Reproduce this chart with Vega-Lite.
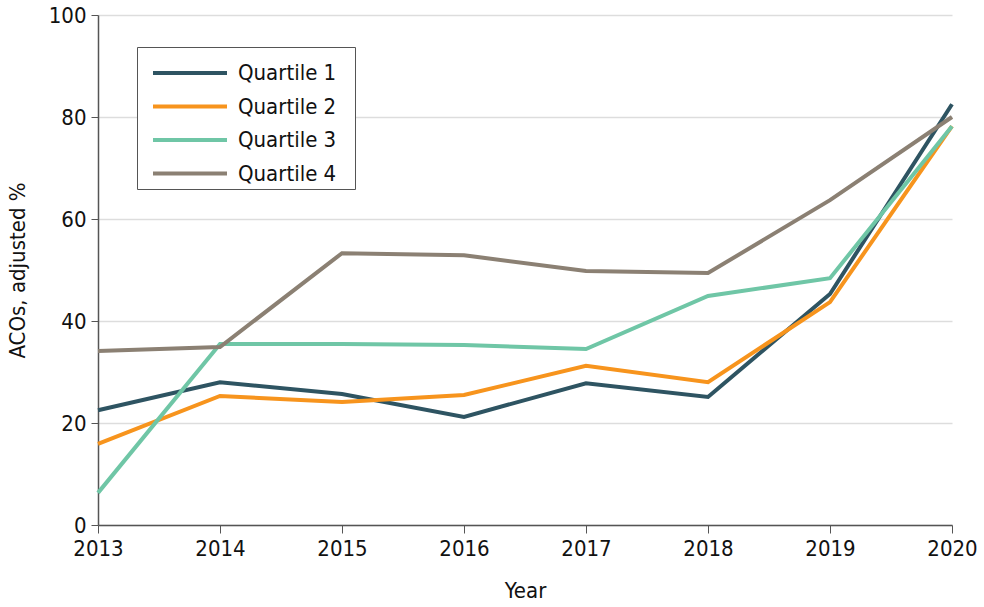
{
  "$schema": "https://vega.github.io/schema/vega-lite/v6.json",
  "width": 854,
  "height": 510,
  "autosize": {"type": "none"},
  "padding": {"left": 98, "top": 15, "right": 32, "bottom": 82},
  "background": "white",
  "config": {
    "view": {"stroke": null},
    "font": "DejaVu Sans Condensed, Liberation Sans, sans-serif"
  },
  "data": {
    "values": [
      {"year": 2013, "q": "Quartile 1", "v": 22.5},
      {"year": 2014, "q": "Quartile 1", "v": 28.0},
      {"year": 2015, "q": "Quartile 1", "v": 25.7},
      {"year": 2016, "q": "Quartile 1", "v": 21.2},
      {"year": 2017, "q": "Quartile 1", "v": 27.8},
      {"year": 2018, "q": "Quartile 1", "v": 25.1},
      {"year": 2019, "q": "Quartile 1", "v": 45.3},
      {"year": 2020, "q": "Quartile 1", "v": 82.5},
      {"year": 2013, "q": "Quartile 2", "v": 15.9},
      {"year": 2014, "q": "Quartile 2", "v": 25.3},
      {"year": 2015, "q": "Quartile 2", "v": 24.1},
      {"year": 2016, "q": "Quartile 2", "v": 25.5},
      {"year": 2017, "q": "Quartile 2", "v": 31.2},
      {"year": 2018, "q": "Quartile 2", "v": 28.0},
      {"year": 2019, "q": "Quartile 2", "v": 43.7},
      {"year": 2020, "q": "Quartile 2", "v": 78.2},
      {"year": 2013, "q": "Quartile 3", "v": 6.3},
      {"year": 2014, "q": "Quartile 3", "v": 35.5},
      {"year": 2015, "q": "Quartile 3", "v": 35.5},
      {"year": 2016, "q": "Quartile 3", "v": 35.3},
      {"year": 2017, "q": "Quartile 3", "v": 34.5},
      {"year": 2018, "q": "Quartile 3", "v": 44.9},
      {"year": 2019, "q": "Quartile 3", "v": 48.4},
      {"year": 2020, "q": "Quartile 3", "v": 78.2},
      {"year": 2013, "q": "Quartile 4", "v": 34.1},
      {"year": 2014, "q": "Quartile 4", "v": 34.9},
      {"year": 2015, "q": "Quartile 4", "v": 53.3},
      {"year": 2016, "q": "Quartile 4", "v": 52.9},
      {"year": 2017, "q": "Quartile 4", "v": 49.8},
      {"year": 2018, "q": "Quartile 4", "v": 49.4},
      {"year": 2019, "q": "Quartile 4", "v": 63.7},
      {"year": 2020, "q": "Quartile 4", "v": 80.0}
    ]
  },
  "mark": {"type": "line", "strokeWidth": 4, "strokeJoin": "miter"},
  "encoding": {
    "x": {
      "field": "year", "type": "quantitative",
      "scale": {"domain": [2013, 2020], "nice": false, "zero": false},
      "axis": {
        "title": "Year", "values": [2013, 2014, 2015, 2016, 2017, 2018, 2019, 2020],
        "format": "d", "grid": false,
        "domainColor": "#555555", "domainWidth": 1.5,
        "tickColor": "#555555", "tickSize": 8, "tickWidth": 1,
        "labelFontSize": 22, "labelColor": "#111111", "labelPadding": 5,
        "labelOverlap": false, "labelFlush": false,
        "titleFontSize": 22, "titleColor": "#111111", "titleFontWeight": "normal", "titlePadding": 21
      }
    },
    "y": {
      "field": "v", "type": "quantitative",
      "scale": {"domain": [0, 100], "nice": false},
      "axis": {
        "title": "ACOs, adjusted %", "values": [0, 20, 40, 60, 80, 100],
        "grid": true, "gridColor": "#dddddd", "gridWidth": 1.5,
        "domainColor": "#555555", "domainWidth": 1.5,
        "tickColor": "#555555", "tickSize": 7, "tickWidth": 1,
        "labelFontSize": 22, "labelColor": "#111111", "labelPadding": 5,
        "titleFontSize": 22, "titleColor": "#111111", "titleFontWeight": "normal", "titlePadding": 19
      }
    },
    "color": {
      "field": "q", "type": "nominal",
      "scale": {
        "domain": ["Quartile 1", "Quartile 2", "Quartile 3", "Quartile 4"],
        "range": ["#2e5462", "#f7941d", "#6fc6a6", "#8b8073"]
      },
      "legend": {
        "title": null,
        "orient": "none", "legendX": 39, "legendY": 32,
        "symbolType": "M-0.5,0H3.2", "symbolSize": 1600, "symbolStrokeWidth": 4,
        "labelFontSize": 22, "labelColor": "#111111", "labelOffset": 53,
        "labelExpr": "datum.label + '\u2800'",
        "rowPadding": 0.5,
        "padding": 4,
        "strokeColor": "#555555", "fillColor": "white",
        "labelLimit": 300
      }
    }
  }
}
